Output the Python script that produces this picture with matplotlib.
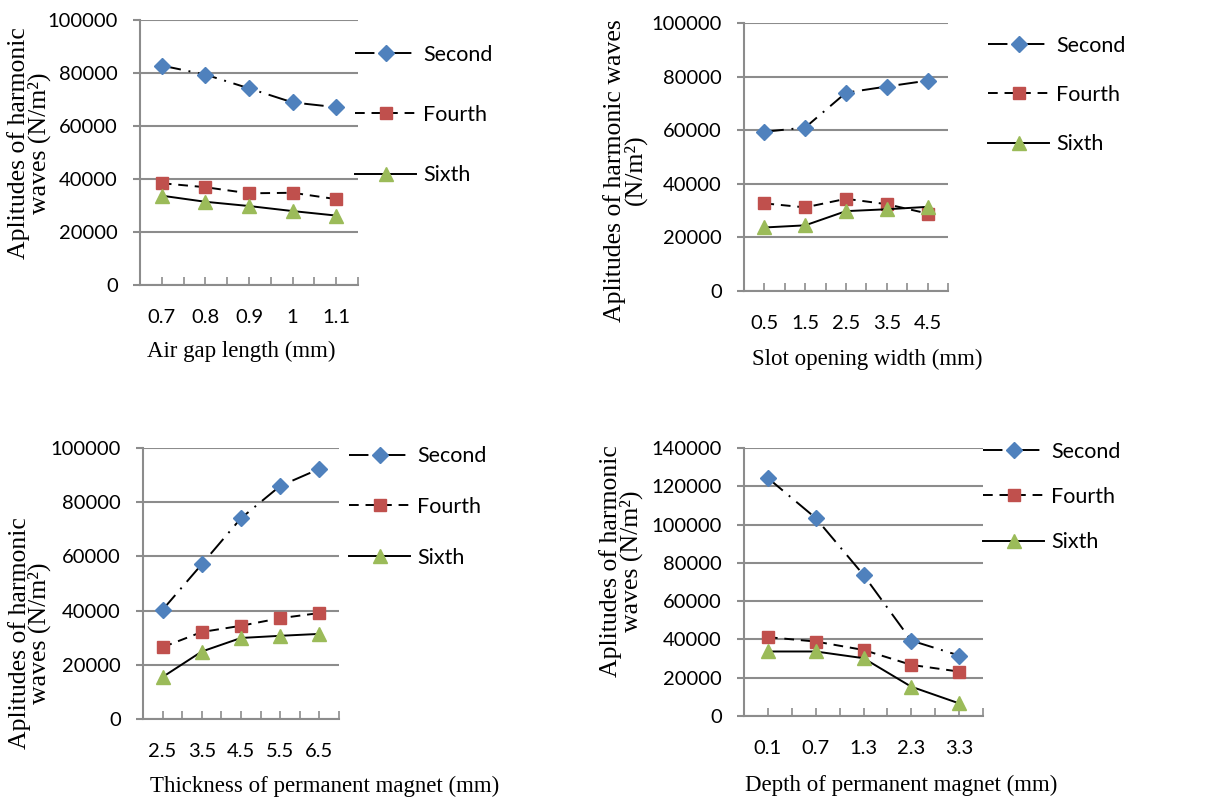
import matplotlib
matplotlib.use("Agg")
import matplotlib.pyplot as plt

# =============================
# DATA
# =============================
series_names = ["Second", "Fourth", "Sixth"]

air_gap = ["0.7", "0.8", "0.9", "1", "1.1"]
air_second = [82800, 79400, 74200, 68900, 67100]
air_fourth = [38400, 36900, 34600, 34800, 32400]
air_sixth = [33700, 31400, 29800, 27900, 26200]

slot_width = ["0.5", "1.5", "2.5", "3.5", "4.5"]
slot_second = [59400, 61000, 74000, 76300, 78500]
slot_fourth = [32700, 31200, 34400, 32400, 28900]
slot_sixth = [23700, 24500, 29800, 30500, 31400]

pm_thick = ["2.5", "3.5", "4.5", "5.5", "6.5"]
thick_second = [40300, 57100, 74100, 86000, 92300]
thick_fourth = [26500, 32100, 34400, 37200, 39100]
thick_sixth = [15500, 24900, 29900, 30700, 31400]

pm_depth = ["0.1", "0.7", "1.3", "2.3", "3.3"]
depth_second = [124300, 103400, 73700, 39400, 31600]
depth_fourth = [41200, 38900, 34500, 26700, 23200]
depth_sixth = [33700, 33700, 30200, 15300, 6600]

# =============================
# STYLE
# =============================
SANS = "Lato"
SERIF = "Liberation Serif"
GRID = "#8c8c8c"
BLUE = "#4F81BD"
RED = "#C0504D"
GREEN = "#9BBB59"

styles = [
    dict(color="black", lw=1.4, dashes=(10, 4, 1, 4), marker="D", ms=8, mfc=BLUE, mec=BLUE),
    dict(color="black", lw=1.4, dashes=(5, 3.5), marker="s", ms=9.2, mfc=RED, mec=RED),
    dict(color="black", lw=1.4, ls="-", marker="^", ms=10, mfc=GREEN, mec=GREEN),
]

fig = plt.figure(figsize=(12.25, 8.02), dpi=100)
W, H = 1225, 802


def px_axes(left, right, top, bottom):
    return fig.add_axes([left / W, 1 - bottom / H, (right - left) / W, (bottom - top) / H])


panels = [
    dict(box=(140, 358, 20, 285), cats=air_gap, data=[air_second, air_fourth, air_sixth],
         ymax=100000, xlabel="Air gap length (mm)", xlab=(0.466, -0.21),
         ylabel="Aplitudes of harmonic\nwaves (N/m²)", ylab=(-0.408, 0.535),
         leg=(355, 115), ls=1.86),
    dict(box=(744, 948, 23, 291), cats=slot_width, data=[slot_second, slot_fourth, slot_sixth],
         ymax=100000, xlabel="Slot opening width (mm)", xlab=(0.605, -0.215),
         ylabel="Aplitudes of harmonic waves\n(N/m²)", ylab=(-0.475, 0.451),
         leg=(988, 95), ls=1.36),
    dict(box=(143, 339, 448, 719), cats=pm_thick, data=[thick_second, thick_fourth, thick_sixth],
         ymax=100000, xlabel="Thickness of permanent magnet (mm)", xlab=(0.928, -0.21),
         ylabel="Aplitudes of harmonic\nwaves (N/m²)", ylab=(-0.467, 0.316),
         leg=(349, 507), ls=1.43),
    dict(box=(744, 983, 448, 716), cats=pm_depth, data=[depth_second, depth_fourth, depth_sixth],
         ymax=140000, xlabel="Depth of permanent magnet (mm)", xlab=(0.658, -0.22),
         ylabel="Aplitudes of harmonic\nwaves (N/m²)", ylab=(-0.422, 0.577),
         leg=(983, 497), ls=1.18),
]

for p in panels:
    ax = px_axes(*p["box"])
    xs = list(range(len(p["cats"])))
    for name, vals, st in zip(series_names, p["data"], styles):
        ax.plot(xs, vals, label=name, **st)

    ax.set_xlim(-0.5, len(xs) - 0.5)
    ax.set_ylim(0, p["ymax"])
    ax.set_yticks(range(0, p["ymax"] + 1, 20000))
    ax.set_xticks(xs)
    ax.set_xticklabels(p["cats"])
    ax.set_xticks([i - 0.5 for i in range(len(xs) + 1)], minor=True)

    ax.grid(axis="y", color=GRID, lw=1.5)
    ax.set_axisbelow(True)
    for s in ["top", "right"]:
        ax.spines[s].set_visible(False)
    for s in ["left", "bottom"]:
        ax.spines[s].set_color(GRID)
        ax.spines[s].set_linewidth(1.5)

    ax.tick_params(axis="y", direction="out", length=5, width=1.5, color=GRID, pad=11,
                   labelsize=14.5)
    ax.tick_params(axis="x", which="both", direction="in", length=5.5, width=1.2,
                   color=GRID, pad=17, labelsize=14.5)
    for lab in ax.get_xticklabels() + ax.get_yticklabels():
        lab.set_fontfamily(SANS)

    ax.set_xlabel(p["xlabel"], fontsize=16.5, fontfamily=SERIF)
    ax.xaxis.set_label_coords(*p["xlab"])
    ax.set_ylabel(p["ylabel"], fontsize=18.5, fontfamily=SERIF, linespacing=0.85)
    ax.yaxis.set_label_coords(*p["ylab"])

    lx, ly = p["leg"]
    ax.legend(loc="center left", bbox_to_anchor=(lx / W, 1 - ly / H),
              bbox_transform=fig.transFigure, frameon=False, borderpad=0,
              borderaxespad=0, handlelength=2.85, handletextpad=0.3,
              labelspacing=p["ls"], prop={"family": SANS, "size": 15.5})

plt.savefig("out.png", dpi=100)
